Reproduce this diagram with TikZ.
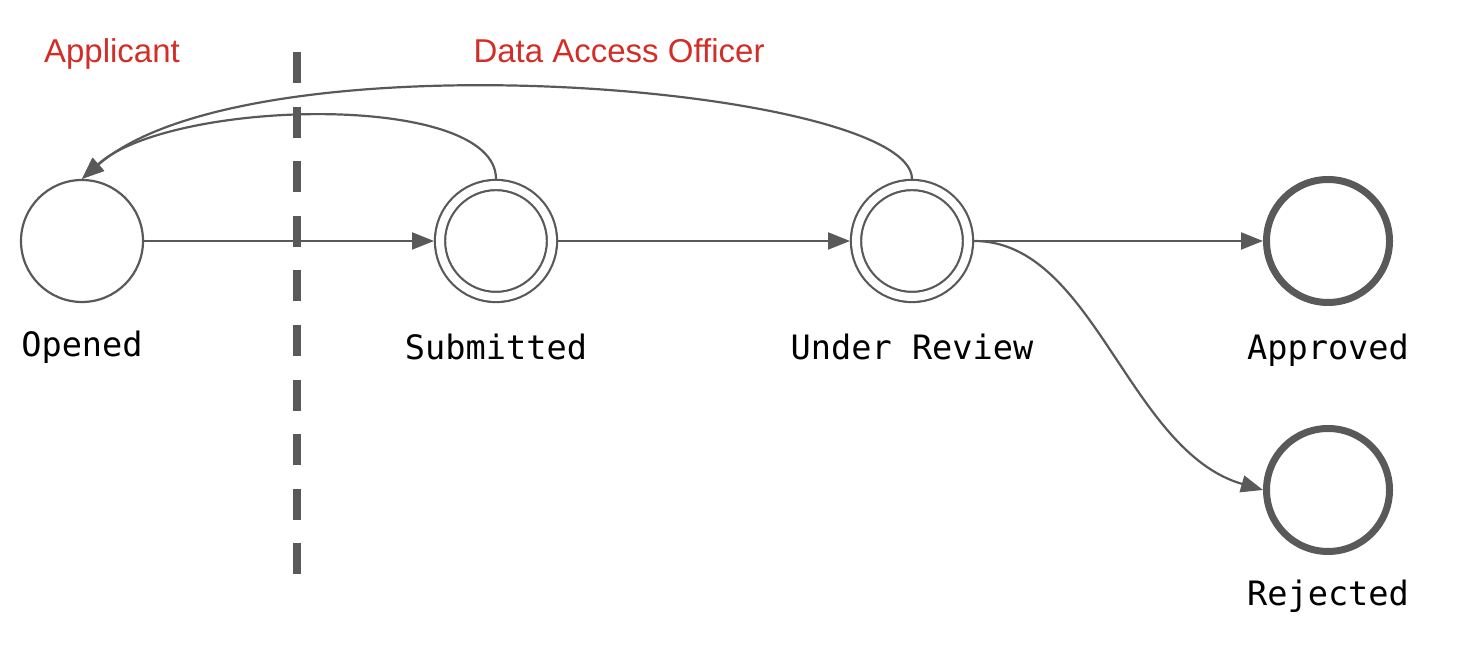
\documentclass[tikz,border=0pt]{standalone}
\usepackage{fontspec}
\setmainfont{Liberation Sans}
\setmonofont{DejaVu Sans Mono}
\usetikzlibrary{arrows.meta}
\definecolor{linegray}{HTML}{595959}
\definecolor{lanered}{HTML}{D22E27}

\begin{document}
\begin{tikzpicture}[
    x=0.5pt, y=0.5pt,
    state/.style={circle, draw=linegray, line width=1.1pt, inner sep=0pt, minimum size=61pt},
    midstate/.style={circle, draw=linegray, line width=1.1pt, double=white, double distance=4pt, inner sep=0pt, minimum size=56pt, outer sep=3pt},
    endstate/.style={circle, draw=linegray, line width=3.5pt, inner sep=0pt, minimum size=61.5pt},
    caption/.style={font=\ttfamily\fontsize{16.8}{20}\selectfont, anchor=base},
    lane/.style={font=\fontsize{16.5}{20}\selectfont, text=lanered, anchor=base},
    arrow/.style={-{Triangle[length=11pt,width=8.5pt]}, draw=linegray, line width=1.1pt},
    divider/.style={draw=linegray, line width=4pt, dash pattern=on 15.5pt off 11.8pt}
]
\useasboundingbox (0,0) rectangle (1460,646);

% Lanes
\node[lane] (applicant) at (112,583) {Applicant};
\node[lane] (officer) at (619,583) {Data Access Officer};

% States
\node[state] (open) at (82,405) {};
\node[midstate] (sub) at (496,405) {};
\node[midstate] (review) at (912,405) {};
\node[endstate] (approve) at (1328,405) {};
\node[endstate] (reject) at (1328,156) {};

% Captions
\node[caption] (openlbl) at (82,289) {Opened};
\node[caption] (sublbl) at (496,286) {Submitted};
\node[caption] (reviewlbl) at (912,286) {Under Review};
\node[caption] (approvelbl) at (1328,286) {Approved};
\node[caption] (rejectlbl) at (1328,40) {Rejected};

% Arrows
\draw[arrow] (open.east) -- (sub.west);
\draw[arrow] (sub.east) -- (review.west);
\draw[arrow] (review.east) -- (approve.west);
\draw[arrow] (review.east) .. controls +(120,0) and +(-135,39) .. (reject.west);

% Back to applicant
\draw[arrow] (sub.north) .. controls +(0,88) and +(88,80) .. (open.north);
\draw[arrow] (review.north) .. controls +(0,92) and +(170,148) .. (open.north);

% Lane divider
\coordinate (divtop) at (297,594);
\coordinate (divbot) at (297,71);
\draw[divider] (divtop) -- (divbot);

\end{tikzpicture}
\end{document}
